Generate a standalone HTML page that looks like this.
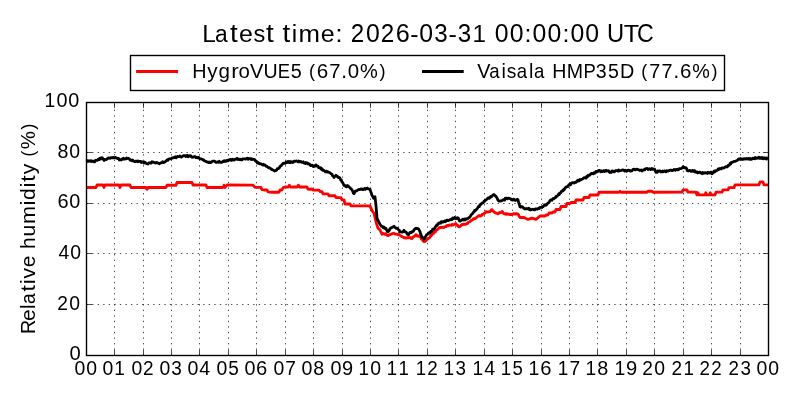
<!DOCTYPE html>
<html><head><meta charset="utf-8"><style>
html,body{margin:0;padding:0;background:#fff;overflow:hidden}
svg{display:block;will-change:transform;font-family:"Liberation Sans",sans-serif}
</style></head><body>
<svg width="800" height="400" viewBox="0 0 800 400">
<rect width="800" height="400" fill="#fff"/>
<g fill="none" stroke="#000" stroke-width="0.69" stroke-dasharray="1.38889 4.16667"><path d="M114.5,355.5V102.5M143.5,355.5V102.5M171.5,355.5V102.5M199.5,355.5V102.5M228.5,355.5V102.5M256.5,355.5V102.5M285.5,355.5V102.5M313.5,355.5V102.5M342.5,355.5V102.5M370.5,355.5V102.5M398.5,355.5V102.5M427.5,355.5V102.5M455.5,355.5V102.5M484.5,355.5V102.5M512.5,355.5V102.5M541.5,355.5V102.5M569.5,355.5V102.5M597.5,355.5V102.5M626.5,355.5V102.5M654.5,355.5V102.5M683.5,355.5V102.5M711.5,355.5V102.5M740.5,355.5V102.5"/><path d="M86.5,304.5H768.5M86.5,253.5H768.5M86.5,203.5H768.5M86.5,152.5H768.5"/></g>
<path d="M86,187.5 96,187.5 97,185 103,185 104,187.5 105,185 119,185 120,187.5 121,185 130,185 131,187.5 146,187.5 147,189.4 148,187.5 166,187.5 167,185.25 176,185.25 177,182.5 192,182.5 193,185 206,185 207,187.5 223,187.5 224,185.25 225,187.5 227,185 250,185.1 253,185.1 255,187.4 261,187.4 262,189.6 264,190 267,190 268,191.9 272,192.25 279,192.25 280,190 282,190 283,187.75 285,187 288.5,187 289.4,185.2 290.3,187 297.5,187 298.4,185.2 299.3,187 307,187 308,189.25 310,189.25 312,189 313,190.1 319,190.1 320,191.6 322,191.6 323,193.9 328,193.9 329,195.75 335,195.75 336,197.6 341,197.6 342,199.9 344,199.9 345,204 350,204 351,205.9 370,205.9 372,210.6 374,213.25 376,221.95 376.67,224.06 377.33,226.42 378,227.97 378.67,228.67 379.33,229.42 380,229.68 380.67,231.35 381.33,232.8 382,234.29 382.67,233.59 383.33,233.8 384,233.59 384.67,234.31 385.33,234.19 386,233.54 386.67,234.98 387.33,235.46 388,235.65 388.67,235.39 389.33,234.71 390,234.35 390.67,234.64 391.33,233.95 392,233.86 392.67,233.69 393.33,233.25 394,233.46 394.67,233.61 395.33,234.18 396,234.02 396.67,234.31 397.33,234.33 398,234.66 398.67,234.62 399.33,234.61 400,235.5 400.67,236 401.33,236.34 402,236.71 402.67,236.82 403.33,237.23 404,237.79 404.67,237.49 405.33,238.1 406,237.65 406.67,238.01 407.33,237.47 408,237.96 408.67,237.93 409.33,237.17 410,237.46 410.67,238.24 411.33,237.89 412,238.48 412.67,237.4 413.33,236.57 414,236.63 414.67,236.28 415.33,235.27 416,234.59 416.67,235.17 417.33,236.13 418,236.26 418.67,235.95 419.33,236.41 420,236.6 420.67,237.39 421.33,238.96 422,239.18 422.67,240.39 423.33,241.11 424,241.69 424.67,241.73 425.33,240.63 426,240.64 426.67,239.62 427.33,239.42 428,238.71 428.67,238.05 429.33,238.03 430,237.14 430.67,235.92 431.33,235.77 432,234.38 432.67,233.84 433.33,233.58 434,232.64 434.67,231.52 435.33,231.82 436,230.46 436.67,229.92 437.33,229.86 438,228.83 438.67,228.38 439.33,227.74 440,227.34 440.67,227.71 441.33,227.24 442,227.48 442.67,227.12 443.33,227.08 444,227.46 444.67,226.73 445.33,226.57 446,226.62 446.67,225.68 447.33,225.4 448,225.91 448.67,225.69 449.33,225 450,224.81 450.67,225.24 451.33,225.32 452,224.45 452.67,225.08 453.33,224.88 454,224.48 454.67,224.17 455.33,223.73 456,223.54 456.75,225.21 457.5,225.24 458.25,226.45 459,226.76 459.75,226.76 460.5,225.97 461.25,225.11 462,224.43 462.67,224.85 463.33,224.07 464,224.1 464.67,224.31 465.33,224.48 466,224.11 466.67,223.41 467.33,223.67 468,222.58 468.67,222.02 469.33,221.89 470,221.7 470.67,220.81 471.33,220.43 472,220.12 472.67,219.82 473.33,218.88 474,218.61 474.67,218.77 475.33,218.48 476,217.78 476.67,217.44 477.33,216.96 478,216.14 478.67,215.79 479.33,215.52 480,216.16 480.67,215.7 481.33,215.71 482,214.52 482.67,214.64 483.33,213.98 484,213.73 484.67,212.82 485.33,213 486,211.58 486.67,211.92 487.33,211.99 488,212.03 488.67,211.74 489.33,211.58 490,211.54 490.67,211.05 491.33,209.87 492,209.59 492.67,210.63 493.33,211.44 494,211.82 494.67,212.5 495.33,212.88 496,212.9 496.67,213.26 497.33,213.32 498,213.83 498.67,213.44 499.33,212.5 500,212.64 500.67,212.58 501.33,212.05 502,211.48 502.67,211.97 503.33,213.15 504,213.83 504.67,213.76 505.33,214.23 506,213.55 506.67,214.29 507.33,213.64 508,214.28 508.67,214.24 509.33,214.06 510,214.6 510.73,214.34 511.45,214.4 512.18,214.64 512.91,213.92 513.64,213.62 514.36,213.85 515.09,214.16 515.82,213.63 516.55,213.54 517.27,214.21 518,213.91 518.67,214.94 519.33,216.64 520,217.5 524,217.5 528,219.4 532,218.1 536,219.4 540,216 545,216 546,215 548,215 549,213 552,213 553,212 555,212 556,209.5 560,209.5 561,206.5 566,206.5 567,203.5 570,203.5 571,202.5 575,202.5 576,200 583,200 584,197.5 589,197.5 590,195 598,195 599,192.25 600,192.25 619,192.25 620,191.25 621,192.25 647,192.25 648,191.25 652,191.25 653,192.25 682,192.2 683,189.9 687,189.9 688,192.2 696,192.2 697,194.9 698,192.8 699,194.9 705,194.9 705.8,192.8 706.6,194.9 709.5,194.9 710.3,192.8 711.1,194.9 715,194.9 716,192.2 722,192.2 723,189.9 728,189.9 729,187.65 734,187.65 735,184.9 759,184.9 760,181.9 763,181.9 764,184.9 768,184.9" fill="none" stroke="#f00" stroke-width="2.78" stroke-linejoin="round"/>
<path d="M86,161 86.67,160.76 87.33,161.46 88,160.65 88.67,161.3 89.33,161.06 90,160.63 90.67,161.37 91.33,160.82 92,161.48 92.67,161.08 93.33,161.22 94,161.79 94.67,161.94 95.33,160.54 96,160.26 96.67,160.41 97.33,160.44 98,159.51 98.67,159.04 99.33,159.63 100,158.12 100.67,159.04 101.33,158.02 102,157.6 102.67,158.2 103.33,159.1 104,160.44 104.67,159.35 105.33,159.71 106,159.59 106.67,159 107.33,159.03 108,158.14 108.67,157.92 109.33,157.91 110,158.35 110.67,157.9 111.33,157.64 112,157.92 112.67,157.63 113.33,157.32 114,157.91 114.67,157.88 115.33,157.34 116,157.9 116.67,157.94 117.33,158.53 118,158.42 118.67,158.44 119.33,160.04 120,159.47 120.67,159.68 121.33,159.94 122,158.89 122.67,159.15 123.33,158.31 124,158.99 124.67,159.01 125.33,158.64 126,158.95 126.67,158.06 127.33,158.48 128,158.23 128.67,158.63 129.33,158.87 130,159.83 130.67,160.39 131.33,160.15 132,160.83 132.67,160.09 133.33,161.1 134,161.13 134.67,161.72 135.33,161.59 136,160.95 136.67,161.2 137.33,161.7 138,160.91 138.67,161.63 139.33,161.33 140,161.36 140.67,161.38 141.33,162.48 142,161.68 142.67,161.95 143.33,162.25 144,163.02 144.67,162.08 145.33,162.76 146,163.07 146.67,163.7 147.33,163.78 148,164.01 148.67,162.98 149.33,162.96 150,162.68 150.67,163.2 151.33,163.1 152,161.76 152.67,161.94 153.33,162.16 154,162.3 154.67,162.8 155.33,163.08 156,162.77 156.67,162.41 157.33,162.99 158,162.92 158.67,163.19 159.33,163.73 160,163.37 160.67,162.92 161.33,162.86 162,162.75 162.67,161.68 163.33,162.66 164,162.29 164.67,162.11 165.33,161.68 166,160.8 166.67,160.49 167.33,159.76 168,160.19 168.67,159.18 169.33,158.98 170,158.97 170.67,158.69 171.33,158.73 172,158.12 172.67,157.8 173.33,157.76 174,157.44 174.67,157.56 175.33,156.84 176,157.77 176.67,157.28 177.33,156.51 178,156.53 178.67,156.54 179.33,156.43 180,155.97 180.67,156.93 181.33,157.08 182,156.29 182.67,156.26 183.33,155.64 184,155.61 184.67,155.89 185.33,155.73 186,156.46 186.67,155.57 187.33,155.42 188,156.76 188.67,156.21 189.33,155.71 190,156.31 190.67,155.7 191.33,156.51 192,157.24 192.67,157.19 193.33,157.07 194,156.57 194.67,156.81 195.33,156.63 196,157.58 196.67,157.35 197.33,157.79 198,157.26 198.67,157.32 199.33,158.35 200,158.8 200.67,158.83 201.33,158.97 202,159.2 202.67,159.7 203.33,159.6 204,160.62 204.67,160.95 205.33,161.04 206,161.59 206.67,161.88 207.33,161.8 208,162.34 208.67,162.66 209.33,161.88 210,162.51 210.67,162.52 211.33,162.4 212,161.51 212.67,161.24 213.33,161.18 214,161.08 214.67,161.15 215.33,161.81 216,162.26 216.67,162.24 217.33,161.8 218,162.11 218.67,162.32 219.33,161.32 220,162.12 220.67,162.47 221.33,162.3 222,162.25 222.67,161.65 223.33,161.02 224,161.65 224.67,160.8 225.33,161.24 226,161.26 226.67,160.35 227.33,160.26 228,160.93 228.67,160.51 229.33,159.64 230,159.48 230.67,159.41 231.33,160.37 232,160.13 232.67,159.1 233.33,159.96 234,160.07 234.67,159.55 235.33,159.06 236,159.27 236.67,158.62 237.33,158.39 238,159.66 238.67,159.28 239.33,159.17 240,159.81 240.67,159.17 241.33,159.85 242,159.86 242.67,158.93 243.33,158.92 244,158.91 244.67,158.77 245.33,159.19 246,158.66 246.67,158.8 247.33,158.32 248,159.32 248.67,158.46 249.33,158.52 250,158.62 250.67,159.22 251.33,158.69 252,159.53 252.67,159.1 253.33,159.29 254,159.43 254.67,159.56 255.33,160.98 256,161.46 256.67,161.51 257.33,162.94 258,162.37 258.67,163.1 259.33,163.76 260,163.83 260.67,163.71 261.33,164.19 262,164.45 262.67,164.98 263.33,164.24 264,165.08 264.67,164.96 265.33,165.32 266,166.33 266.67,166.28 267.33,166.67 268,167.26 268.67,167.89 269.33,167.65 270,168.31 270.67,168.57 271.33,169 272,169.67 272.67,169.73 273.33,170.25 274,170.57 274.67,171.02 275.33,170.48 276,170.53 276.67,170.1 277.33,168.63 278,168.53 278.67,168.55 279.33,167.89 280,166.39 280.67,165.74 281.33,165.55 282,164.4 282.67,164 283.33,163.14 284,163.34 284.67,163.3 285.33,163.26 286,162.02 286.67,162.6 287.33,162.32 288,161.4 288.67,162.44 289.33,162.55 290,161.51 290.67,162.53 291.33,161.76 292,161.88 292.67,162.48 293.33,162.15 294,161.1 294.67,161.37 295.33,161.38 296,161.02 296.67,160.93 297.33,161.21 298,161.89 298.67,161.01 299.33,161.87 300,161.82 300.67,161.33 301.33,161.86 302,162.37 302.67,162.32 303.33,161.79 304,163.18 304.67,163.11 305.33,163.58 306,162.57 306.67,163.01 307.33,162.9 308,164.14 308.67,163.76 309.33,163.9 310,164.64 310.67,165.58 311.33,165.7 312,165.16 312.67,165.26 313.33,166.59 314,166.35 314.67,166.28 315.33,165.18 316,164.88 316.67,166.14 317.33,166.15 318,166.03 318.67,167.61 319.33,167.56 320,168.17 320.67,167.67 321.33,169.25 322,168.64 322.67,170.26 323.33,170.19 324,170.52 324.67,171.07 325.33,171.85 326,171.18 326.67,171.23 327.33,172.04 328,171.88 328.67,172.08 329.33,172.53 330,172.75 330.67,173.33 331.33,173.86 332,174.23 332.67,175.86 333.33,176.21 334,177.5 334.67,176.55 335.33,176.29 336,175.33 336.67,176.03 337.33,176.07 338,177.45 338.67,177.57 339.33,177.44 340,178.21 340.67,179.98 341.33,179.95 342,182.07 342.67,182.66 343.33,183.87 344,185.47 344.67,185.35 345.33,186.01 346,186.76 346.67,186.76 347.33,185.45 348,185.72 348.67,186.42 349.33,187.21 350,187.77 350.67,188.55 351.33,189.01 352,189.98 352.67,191.07 353.33,193.17 354,193.66 354.67,192.36 355.33,191.08 356,190.98 356.67,190.87 357.33,190.44 358,189.74 358.67,189.54 359.33,189.46 360,189.54 360.67,188.98 361.33,189.24 362,188.84 362.67,189.68 363.33,189.55 364,188.82 364.67,188.39 365.33,189.4 366,188.48 366.67,188.55 367.33,188.05 368,188.58 368.67,189 369.33,189.32 370,189.18 370.67,191.66 371.33,193.01 372,195.42 372.67,196.34 373.33,197.94 374,198.61 375,196.83 376,205.73 377,218.13 377.75,219.99 378.5,221.29 379.25,222.98 380,224.22 380.67,225.14 381.33,226.2 382,226.35 382.67,226.59 383.33,227.85 384,227.01 384.67,228.31 385.33,228.7 386,228.36 386.67,230.3 387.33,231.22 388,231.68 388.67,230.99 389.33,230.27 390,228.5 390.67,228.37 391.33,227.67 392,227.47 392.67,227.09 393.33,226.79 394,226.12 394.67,227.22 395.33,227.59 396,228.27 396.67,228.12 397.33,228.34 398,228.99 398.67,229.97 399.33,230.28 400,231.97 400.67,231.75 401.33,232.01 402,232.18 402.67,231.92 403.33,231.32 404,230.3 404.67,231.75 405.33,232.01 406,232 406.67,233.05 407.33,234.22 408,234.39 408.67,234.66 409.33,233.32 410,232.4 410.67,232.34 411.33,232.65 412,231.59 412.67,231.67 413.33,231.33 414,229.99 414.67,229.17 415.33,228.64 416,228.26 416.67,228.54 417.33,228.5 418,228.7 418.67,229.08 419.33,230.34 420,231.66 420.67,234.17 421.33,235.39 422,237.59 422.67,237.48 423.33,238.22 424,239.18 424.67,238.41 425.33,237.1 426,235.75 426.67,234.71 427.33,234.52 428,233.95 428.67,233.45 429.33,232.47 430,233.05 430.67,231.41 431.33,231.84 432,231.11 432.67,229.16 433.33,229.11 434,228.95 434.67,228.41 435.33,226.93 436,225.93 436.67,225.09 437.33,225.37 438,223.59 438.67,223.74 439.33,222.75 440,222.91 440.67,223.13 441.33,221.61 442,222.2 442.67,221.64 443.33,222.04 444,221.66 444.67,220.87 445.33,221.68 446,220.98 446.67,220.21 447.33,220.06 448,220.61 448.67,220.43 449.33,220.1 450,219.75 450.67,219.66 451.33,219.24 452,219.6 452.67,218.05 453.33,218.73 454,218.47 454.67,217.47 455.33,218.6 456,218.3 456.67,218.56 457.33,217.71 458,217.82 458.67,218.85 459.33,220.7 460,221.12 460.67,220.55 461.33,220.4 462,219.94 462.67,219.37 463.33,219.19 464,219.97 464.67,219.07 465.33,219.86 466,218.77 466.67,218.67 467.33,218.89 468,218.32 468.67,217.7 469.33,217.64 470,216.66 470.67,215.69 471.33,214.56 472,214.08 472.67,213.49 473.33,212.32 474,211.93 474.67,210.37 475.33,210.7 476,209.68 476.67,209.35 477.33,208.45 478,207.2 478.67,206.12 479.33,206.6 480,204.73 480.67,204.59 481.33,203.78 482,203.09 482.67,203.08 483.33,202.79 484,201.16 484.67,201.22 485.33,200.22 486,200.08 486.67,199.35 487.33,198.53 488,198.03 488.67,197.76 489.33,198.4 490,197.5 490.67,196.47 491.33,196.8 492,196.3 492.67,195.33 493.33,194.7 494,194.57 494.67,195.06 495.33,196.05 496,196.33 496.67,197.57 497.33,198.63 498,200.1 498.67,200.96 499.33,201.18 500,201.13 500.67,200.92 501.33,200.87 502,200.45 502.67,200.19 503.33,199.6 504,199.69 504.67,200.02 505.33,198.21 506,198.1 506.67,198.39 507.33,198.82 508,198.03 508.67,198.21 509.33,198.29 510,198.61 510.67,198.88 511.33,199.8 512,199.86 512.67,200.11 513.33,199.12 514,199.35 514.67,200.29 515.33,200.55 516,199.96 516.67,200.12 517.33,199.3 518,199.85 518.67,202.68 519.33,204.62 520,206.75 520.67,207.22 521.33,206.51 522,206.63 522.67,207 523.33,207.82 524,208.35 524.67,208.83 525.33,208.63 526,208.63 526.67,208.9 527.33,208.58 528,208.82 528.67,208.27 529.33,209.48 530,208.88 530.67,210 531.33,209.79 532,209.48 532.67,209.17 533.33,209.29 534,209.77 534.67,209.79 535.33,208.92 536,208.8 536.67,209.22 537.33,209.08 538,208.59 538.67,208.15 539.33,208.46 540,207.41 540.67,207.41 541.33,207.21 542,207.49 542.67,206.64 543.33,206.55 544,205.57 544.67,204.92 545.33,204.63 546,205.32 546.67,204.65 547.33,203.79 548,203.08 548.67,202.7 549.33,201.89 550,200.49 550.67,199.95 551.33,200.22 552,200.27 552.67,198.98 553.33,198.41 554,198.52 554.67,198.01 555.33,197.76 556,196.45 556.67,196.67 557.33,195.96 558,195.01 558.67,193.96 559.33,194.41 560,192.86 560.67,192.95 561.33,191.5 562,190.86 562.67,190.99 563.33,189.71 564,190.01 564.67,188.74 565.33,187.69 566,187.11 566.67,186.87 567.33,186.7 568,186.58 568.67,184.94 569.33,184.77 570,184 570.67,184.75 571.33,183.27 572,182.82 572.67,182.52 573.33,182.67 574,183.06 574.67,182.72 575.33,182.19 576,182.25 576.67,181.84 577.33,180.68 578,180.16 578.67,181.01 579.33,180.54 580,179.34 580.67,180.03 581.33,179.43 582,179.22 582.67,178.85 583.33,178.3 584,177.75 584.67,177.83 585.33,177.61 586,178.14 586.67,176.46 587.33,177.12 588,175.54 588.67,175.23 589.33,175.37 590,174.85 590.67,174.09 591.33,173.34 592,173.71 592.67,173.36 593.33,173.9 594,172.67 594.67,172.56 595.33,172.96 596,171.39 596.67,171.58 597.33,171.79 598,171.37 598.67,170.4 599.33,170.43 600,170.51 600.67,171.75 601.33,170.87 602,171.6 602.67,171.7 603.33,170.81 604,170.61 604.67,171.46 605.33,170.87 606,170.27 606.67,171.12 607.33,170.78 608,170.94 608.67,170.77 609.33,172.04 610,172.48 610.67,171.98 611.33,172.3 612,170.91 612.67,171.09 613.33,171.32 614,171.89 614.67,171.78 615.33,170.87 616,170.58 616.67,170.72 617.33,170.7 618,171.2 618.67,170.06 619.33,170.82 620,170.63 620.67,170.65 621.33,170.48 622,170.15 622.67,169.93 623.33,170.08 624,170.31 624.67,171.06 625.33,170.24 626,170.58 626.67,171.29 627.33,170.51 628,170.19 628.67,170.08 629.33,170.74 630,170.36 630.67,171.13 631.33,170.85 632,170.86 632.67,169.7 633.33,169.31 634,169.18 634.67,169.69 635.33,169.93 636,169.5 636.67,169.14 637.33,169.34 638,169.57 638.67,169.84 639.33,170.15 640,170.49 640.67,170.43 641.33,169.87 642,171.08 642.67,170.04 643.33,170.16 644,169.62 644.67,169.87 645.33,168.85 646,168.65 646.67,168.64 647.33,168.51 648,169.54 648.67,169.11 649.33,168.76 650,168.85 650.67,169.65 651.33,168.93 652,168.5 652.67,169.27 653.33,169.01 654,169.44 654.67,169.24 655.33,170.81 656,172.35 656.67,172.27 657.33,172.26 658,170.93 658.67,171.18 659.33,170.83 660,170.82 660.67,171.91 661.33,171.37 662,171.85 662.67,171.07 663.33,171.76 664,171.18 664.67,170.91 665.33,171.64 666,171.87 666.67,170.61 667.33,171.22 668,171.17 668.67,170.52 669.33,170.65 670,170.25 670.67,170.25 671.33,170.24 672,170.64 672.67,170.61 673.33,169.88 674,169.52 674.67,169.86 675.33,170.25 676,169.46 676.67,169.52 677.33,169.25 678,169.96 678.67,169.5 679.33,168.71 680,168.64 680.75,168.58 681.5,168.32 682.25,167.97 683,166.73 683.75,167 684.5,167.92 685.25,167.7 686,167.7 686.67,168.76 687.33,170.7 688,170.84 688.67,170.99 689.33,170.5 690,170.38 690.67,171.11 691.33,171.4 692,170.61 692.67,170.48 693.33,171.32 694,170.69 694.67,170.62 695.33,172.1 696,171.64 696.67,172.42 697.33,172.05 698,172.94 698.67,172.46 699.33,172.16 700,172.07 700.67,172.94 701.33,173.18 702,173.67 702.67,172.52 703.33,173.27 704,172.92 704.67,173.11 705.33,172.6 706,172.8 706.67,173.01 707.33,173.46 708,172.2 708.67,172.62 709.33,172.94 710,173.05 710.67,172.21 711.33,172.34 712,173.72 712.67,173.33 713.33,172.21 714,171.17 714.67,171.96 715.33,170.78 716,171.07 716.67,170.35 717.33,170.32 718,169.07 718.67,169.63 719.33,168.53 720,168.47 720.67,168.98 721.33,168.86 722,167.86 722.67,167.81 723.33,167.96 724,168.03 724.67,167.5 725.33,166.81 726,166.65 726.67,166.98 727.33,166.89 728,165.36 728.67,165.45 729.33,165.09 730,163.45 730.67,163.94 731.33,162.3 732,162.34 732.67,162.07 733.33,161.98 734,161.33 734.67,161.29 735.33,161.32 736,160.9 736.67,160.86 737.33,160.19 738,159.81 738.67,158.87 739.33,159.33 740,158.79 740.67,158.51 741.33,159.34 742,159.44 742.67,159.07 743.33,158.77 744,159.26 744.67,158.7 745.33,158.68 746,159.05 746.67,158.53 747.33,158.97 748,159.01 748.67,158.36 749.33,159.19 750,158.42 750.67,159.33 751.33,159.39 752,159.02 752.67,158.17 753.33,158.59 754,158.2 754.67,158.8 755.33,157.45 756,158.25 756.67,158.4 757.33,157.99 758,158.07 758.67,157.15 759.33,158.22 760,157.49 760.67,158.29 761.33,158.38 762,157.48 762.67,158.5 763.33,158.85 764,157.79 764.67,158.19 765.33,158.76 766,157.92 766.67,158.96 767.33,158.08 768,158.4" fill="none" stroke="#000" stroke-width="2.78" stroke-linejoin="round"/>
<path d="M114.5,355.5v-5.56M114.5,102.5v5.56M143.5,355.5v-5.56M143.5,102.5v5.56M171.5,355.5v-5.56M171.5,102.5v5.56M199.5,355.5v-5.56M199.5,102.5v5.56M228.5,355.5v-5.56M228.5,102.5v5.56M256.5,355.5v-5.56M256.5,102.5v5.56M285.5,355.5v-5.56M285.5,102.5v5.56M313.5,355.5v-5.56M313.5,102.5v5.56M342.5,355.5v-5.56M342.5,102.5v5.56M370.5,355.5v-5.56M370.5,102.5v5.56M398.5,355.5v-5.56M398.5,102.5v5.56M427.5,355.5v-5.56M427.5,102.5v5.56M455.5,355.5v-5.56M455.5,102.5v5.56M484.5,355.5v-5.56M484.5,102.5v5.56M512.5,355.5v-5.56M512.5,102.5v5.56M541.5,355.5v-5.56M541.5,102.5v5.56M569.5,355.5v-5.56M569.5,102.5v5.56M597.5,355.5v-5.56M597.5,102.5v5.56M626.5,355.5v-5.56M626.5,102.5v5.56M654.5,355.5v-5.56M654.5,102.5v5.56M683.5,355.5v-5.56M683.5,102.5v5.56M711.5,355.5v-5.56M711.5,102.5v5.56M740.5,355.5v-5.56M740.5,102.5v5.56M86.5,304.5h5.56M768.5,304.5h-5.56M86.5,253.5h5.56M768.5,253.5h-5.56M86.5,203.5h5.56M768.5,203.5h-5.56M86.5,152.5h5.56M768.5,152.5h-5.56" fill="none" stroke="#000" stroke-width="0.69"/>
<rect x="86.5" y="102.5" width="682.0" height="253.0" fill="none" stroke="#000" stroke-width="1.39"/>
<rect x="130.5" y="55.5" width="594" height="35" fill="#fff" stroke="#000" stroke-width="1.39"/>
<path d="M136.1,71.5H178.1" stroke="#f00" stroke-width="2.78"/>
<path d="M422,71.5H463.7" stroke="#000" stroke-width="2.78"/>
<g fill="#000" font-size="20.0">
<text transform="matrix(1.22,0,0,1.24,202.18,41.75)">L</text><text transform="matrix(1.14,0,0,1.23,215.01,41.84)">a</text><text transform="matrix(1.39,0,0,1.26,230.06,41.55)">t</text><text transform="matrix(1.25,0,0,1.23,238.91,41.84)">e</text><text transform="matrix(1.18,0,0,1.23,253.43,41.84)">s</text><text transform="matrix(1.39,0,0,1.26,265.94,41.55)">t</text><text transform="matrix(1.39,0,0,1.26,282.61,41.55)">t</text><text transform="matrix(1.22,0,0,1.23,291.72,41.75)">i</text><text transform="matrix(1.29,0,0,1.22,298.46,41.75)">m</text><text transform="matrix(1.25,0,0,1.23,320.85,41.84)">e</text><text transform="matrix(1.25,0,0,1.15,335.47,41.75)">:</text><text transform="matrix(1.21,0,0,1.25,350.76,41.75)">2</text><text transform="matrix(1.24,0,0,1.25,365.88,41.84)">0</text><text transform="matrix(1.21,0,0,1.25,380.63,41.75)">2</text><text transform="matrix(1.26,0,0,1.25,395.63,41.84)">6</text><text transform="matrix(1.25,0,0,1.2,410.17,41.71)">-</text><text transform="matrix(1.24,0,0,1.25,419.15,41.84)">0</text><text transform="matrix(1.21,0,0,1.25,434.26,41.84)">3</text><text transform="matrix(1.25,0,0,1.2,448.51,41.71)">-</text><text transform="matrix(1.21,0,0,1.25,457.66,41.84)">3</text><text transform="matrix(1.21,0,0,1.24,472.47,41.75)">1</text><text transform="matrix(1.24,0,0,1.25,494.83,41.84)">0</text><text transform="matrix(1.24,0,0,1.25,509.76,41.84)">0</text><text transform="matrix(1.25,0,0,1.15,524.6,41.75)">:</text><text transform="matrix(1.24,0,0,1.25,532.61,41.84)">0</text><text transform="matrix(1.24,0,0,1.25,547.54,41.84)">0</text><text transform="matrix(1.25,0,0,1.15,562.38,41.75)">:</text><text transform="matrix(1.24,0,0,1.25,570.39,41.84)">0</text><text transform="matrix(1.24,0,0,1.25,585.32,41.84)">0</text><text transform="matrix(1.19,0,0,1.25,607.1,41.84)">U</text><text transform="matrix(1.26,0,0,1.24,623.81,41.75)">T</text><text transform="matrix(1.16,0,0,1.25,636.88,41.84)">C</text><text transform="matrix(0.99,0,0,1.03,192.16,77.92)">H</text><text transform="matrix(1.03,0,0,1,207.26,77.83)">y</text><text transform="matrix(1.03,0,0,1.01,218.51,77.8)">g</text><text transform="matrix(1.12,0,0,1.02,231.16,77.92)">r</text><text transform="matrix(1.02,0,0,1.02,238.47,78)">o</text><text transform="matrix(1,0,0,1.03,250.12,77.92)">V</text><text transform="matrix(0.98,0,0,1.04,263.5,78)">U</text><text transform="matrix(0.92,0,0,1.03,277.72,77.92)">E</text><text transform="matrix(0.99,0,0,1.04,290.69,78)">5</text><text transform="matrix(0.91,0,0,0.93,308.99,76.63)">(</text><text transform="matrix(1.03,0,0,1.04,316.73,78)">6</text><text transform="matrix(1.01,0,0,1.03,329.26,77.92)">7</text><text transform="matrix(1.03,0,0,1.13,341.34,77.92)">.</text><text transform="matrix(1.02,0,0,1.04,347.85,78)">0</text><text transform="matrix(1,0,0,1.05,360.06,78.08)">%</text><text transform="matrix(0.91,0,0,0.93,379.48,76.63)">)</text><text transform="matrix(0.99,0,0,1.03,477.27,77.85)">V</text><text transform="matrix(0.93,0,0,1.02,489.18,77.92)">a</text><text transform="matrix(0.99,0,0,1.02,501.51,77.85)">i</text><text transform="matrix(0.96,0,0,1.02,506.8,77.92)">s</text><text transform="matrix(0.93,0,0,1.02,516.63,77.92)">a</text><text transform="matrix(0.99,0,0,1.02,528.94,77.85)">l</text><text transform="matrix(0.93,0,0,1.02,533.94,77.92)">a</text><text transform="matrix(0.98,0,0,1.03,552.19,77.85)">H</text><text transform="matrix(0.98,0,0,1.03,566.81,77.85)">M</text><text transform="matrix(0.92,0,0,1.03,583.4,77.85)">P</text><text transform="matrix(0.98,0,0,1.04,595.78,77.92)">3</text><text transform="matrix(0.98,0,0,1.04,608.09,77.92)">5</text><text transform="matrix(0.99,0,0,1.03,620.12,77.85)">D</text><text transform="matrix(0.9,0,0,0.93,641.28,76.56)">(</text><text transform="matrix(0.99,0,0,1.03,649.14,77.85)">7</text><text transform="matrix(0.99,0,0,1.03,661.51,77.85)">7</text><text transform="matrix(1.02,0,0,1.13,673.51,77.85)">.</text><text transform="matrix(1.02,0,0,1.04,679.94,77.92)">6</text><text transform="matrix(0.99,0,0,1.05,692.23,78)">%</text><text transform="matrix(0.9,0,0,0.93,711.52,76.56)">)</text><text transform="matrix(1.01,0,0,1.03,69.48,360.06)">0</text><text transform="matrix(0.96,0,0,0.98,57.33,309.74)">2</text><text transform="matrix(0.97,0,0,0.99,69.24,309.81)">0</text><text transform="matrix(0.97,0,0,0.98,58.55,258.71)">4</text><text transform="matrix(0.97,0,0,0.98,70.28,258.77)">0</text><text transform="matrix(1,0,0,0.98,57.38,207.77)">6</text><text transform="matrix(0.99,0,0,0.98,69.19,207.77)">0</text><text transform="matrix(0.98,0,0,0.98,57.57,157.75)">8</text><text transform="matrix(0.97,0,0,0.98,69.28,157.75)">0</text><text transform="matrix(0.96,0,0,0.99,44.56,106.82)">1</text><text transform="matrix(0.99,0,0,1,56.44,106.89)">0</text><text transform="matrix(0.99,0,0,1,68.36,106.89)">0</text><text transform="matrix(0.97,0,0,0.98,74.51,374.75)">0</text><text transform="matrix(0.97,0,0,0.98,86.19,374.75)">0</text><text transform="matrix(0.97,0,0,0.99,102.51,374.8)">0</text><text transform="matrix(0.95,0,0,0.98,114.31,374.73)">1</text><text transform="matrix(0.97,0,0,0.98,131.51,374.78)">0</text><text transform="matrix(0.95,0,0,0.98,143.07,374.71)">2</text><text transform="matrix(0.97,0,0,0.98,159.51,374.78)">0</text><text transform="matrix(0.95,0,0,0.98,171.35,374.78)">3</text><text transform="matrix(0.98,0,0,0.99,187.51,374.81)">0</text><text transform="matrix(0.98,0,0,0.98,199.28,374.74)">4</text><text transform="matrix(0.97,0,0,0.99,216.51,374.79)">0</text><text transform="matrix(0.95,0,0,0.99,228.36,374.8)">5</text><text transform="matrix(0.99,0,0,0.98,244.42,374.78)">0</text><text transform="matrix(1.01,0,0,0.98,256.05,374.78)">6</text><text transform="matrix(0.97,0,0,0.99,273.51,374.78)">0</text><text transform="matrix(0.96,0,0,0.98,285.29,374.71)">7</text><text transform="matrix(0.98,0,0,0.99,301.48,374.8)">0</text><text transform="matrix(0.98,0,0,0.99,313.21,374.8)">8</text><text transform="matrix(0.99,0,0,0.98,330.42,374.79)">0</text><text transform="matrix(1,0,0,0.98,342.01,374.79)">9</text><text transform="matrix(0.95,0,0,0.98,358.58,374.71)">1</text><text transform="matrix(0.97,0,0,0.98,370.28,374.78)">0</text><text transform="matrix(0.93,0,0,0.98,386.7,374.77)">1</text><text transform="matrix(0.93,0,0,0.98,398.51,374.77)">1</text><text transform="matrix(0.93,0,0,0.98,415.68,374.86)">1</text><text transform="matrix(0.94,0,0,0.98,427.26,374.86)">2</text><text transform="matrix(0.93,0,0,0.98,443.69,374.74)">1</text><text transform="matrix(0.94,0,0,0.99,455.56,374.81)">3</text><text transform="matrix(0.96,0,0,0.98,472.57,374.78)">1</text><text transform="matrix(0.98,0,0,0.98,484.36,374.78)">4</text><text transform="matrix(0.93,0,0,0.98,500.7,374.61)">1</text><text transform="matrix(0.93,0,0,0.98,512.51,374.68)">5</text><text transform="matrix(0.97,0,0,0.98,528.48,374.74)">1</text><text transform="matrix(1.01,0,0,0.99,540.13,374.81)">6</text><text transform="matrix(0.95,0,0,0.98,557.63,374.77)">1</text><text transform="matrix(0.96,0,0,0.98,569.43,374.77)">7</text><text transform="matrix(0.96,0,0,0.98,585.54,374.75)">1</text><text transform="matrix(0.99,0,0,0.99,597.29,374.82)">8</text><text transform="matrix(0.97,0,0,0.98,614.48,374.74)">1</text><text transform="matrix(1.01,0,0,0.99,626.09,374.81)">9</text><text transform="matrix(0.96,0,0,0.98,642.33,374.74)">2</text><text transform="matrix(0.97,0,0,0.99,654.24,374.81)">0</text><text transform="matrix(0.95,0,0,0.99,671.42,374.92)">2</text><text transform="matrix(0.94,0,0,0.99,683.46,374.92)">1</text><text transform="matrix(0.94,0,0,0.99,699.43,374.89)">2</text><text transform="matrix(0.94,0,0,0.99,711.22,374.89)">2</text><text transform="matrix(0.94,0,0,0.99,728.42,374.77)">2</text><text transform="matrix(0.94,0,0,0.99,740.52,374.84)">3</text><text transform="matrix(0.97,0,0,0.98,756.51,374.75)">0</text><text transform="matrix(0.97,0,0,0.98,768.19,374.75)">0</text>
<g transform="matrix(0,-1,1,0,0,332.12)"><text transform="matrix(0.99,0,0,1.03,-1.95,34.87)">R</text><text transform="matrix(1.05,0,0,1.02,11.01,34.95)">e</text><text transform="matrix(1.02,0,0,1.02,23.23,34.87)">l</text><text transform="matrix(0.96,0,0,1.02,28.14,34.95)">a</text><text transform="matrix(1.17,0,0,1.05,40.65,34.71)">t</text><text transform="matrix(1.02,0,0,1.02,48.22,34.87)">i</text><text transform="matrix(1.05,0,0,1.01,53.71,34.87)">v</text><text transform="matrix(1.05,0,0,1.02,64.91,34.95)">e</text><text transform="matrix(1.05,0,0,1.02,83.22,34.87)">h</text><text transform="matrix(1.05,0,0,1.04,95.53,34.95)">u</text><text transform="matrix(1.08,0,0,1.01,108.14,34.87)">m</text><text transform="matrix(1.02,0,0,1.02,126.99,34.87)">i</text><text transform="matrix(1.05,0,0,1.03,132.18,34.95)">d</text><text transform="matrix(1.02,0,0,1.02,144.77,34.87)">i</text><text transform="matrix(1.17,0,0,1.05,150.25,34.71)">t</text><text transform="matrix(1.05,0,0,1,157.9,34.78)">y</text><text transform="matrix(0.93,0,0,0.93,175.33,33.59)">(</text><text transform="matrix(1.02,0,0,1.05,182.84,35.03)">%</text><text transform="matrix(0.93,0,0,0.93,202.36,33.59)">)</text></g>
</g>
</svg>
</body></html>
